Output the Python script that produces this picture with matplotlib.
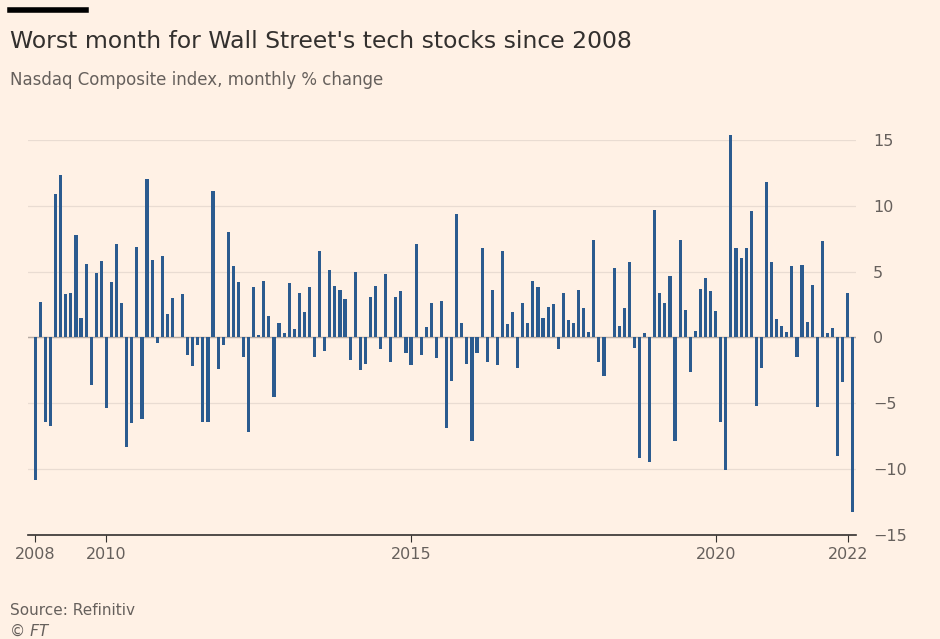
import matplotlib.pyplot as plt
import numpy as np

# Nasdaq monthly % change, Nov 2008 - Apr 2022
changes = [
    -10.8, 2.7,
    -6.4, -6.7, 10.9, 12.3, 3.3, 3.4, 7.8, 1.5, 5.6, -3.6, 4.9, 5.8,
    -5.4, 4.2, 7.1, 2.6, -8.3, -6.5, 6.9, -6.2, 12.0, 5.9, -0.4, 6.2,
    1.8, 3.0, 0.0, 3.3, -1.3, -2.2, -0.6, -6.4, -6.4, 11.1, -2.4, -0.6,
    8.0, 5.4, 4.2, -1.5, -7.2, 3.8, 0.2, 4.3, 1.6, -4.5, 1.1, 0.3,
    4.1, 0.6, 3.4, 1.9, 3.8, -1.5, 6.6, -1.0, 5.1, 3.9, 3.6, 2.9,
    -1.7, 5.0, -2.5, -2.0, 3.1, 3.9, -0.9, 4.8, -1.9, 3.1, 3.5, -1.2,
    -2.1, 7.1, -1.3, 0.8, 2.6, -1.6, 2.8, -6.9, -3.3, 9.4, 1.1, -2.0,
    -7.9, -1.2, 6.8, -1.9, 3.6, -2.1, 6.6, 1.0, 1.9, -2.3, 2.6, 1.1,
    4.3, 3.8, 1.5, 2.3, 2.5, -0.9, 3.4, 1.3, 1.1, 3.6, 2.2, 0.4,
    7.4, -1.9, -2.9, 0.0, 5.3, 0.9, 2.2, 5.7, -0.8, -9.2, 0.3, -9.5,
    9.7, 3.4, 2.6, 4.7, -7.9, 7.4, 2.1, -2.6, 0.5, 3.7, 4.5, 3.5,
    2.0, -6.4, -10.1, 15.4, 6.8, 6.0, 6.8, 9.6, -5.2, -2.3, 11.8, 5.7,
    1.4, 0.9, 0.4, 5.4, -1.5, 5.5, 1.2, 4.0, -5.3, 7.3, 0.3, 0.7,
    -9.0, -3.4, 3.4, -13.3,
]
year_pos = [0, 14, 74, 134, 160]
year_labels = ["2008", "2010", "2015", "2020", "2022"]
y_ticks = [-15, -10, -5, 0, 5, 10, 15]

bg = "#fff1e5"
fig = plt.figure(figsize=(9.4, 6.39), dpi=100, facecolor=bg)
ax = fig.add_axes([0.030, 0.163, 0.881, 0.618], facecolor=bg)

x = np.arange(len(changes))
ax.bar(x, changes, width=0.62, color="#2b5b8f", zorder=3, clip_on=False)

ax.set_xlim(-1.4, 161.7)
ax.set_ylim(-15, 15)
ax.set_yticks(y_ticks)
ax.yaxis.tick_right()
ax.tick_params(axis="y", length=0, pad=12, labelsize=11.5, labelcolor="#66605c")
ax.grid(axis="y", color="#e9dcd2", linewidth=0.9, zorder=0)
ax.axhline(0, color="#b5aba4", linewidth=1, zorder=2)
ax.set_xticks(year_pos)
ax.set_xticklabels(year_labels)
ax.tick_params(axis="x", length=5, color="#33302e", labelsize=11.5, labelcolor="#66605c")
for s in ["top", "right", "left"]:
    ax.spines[s].set_visible(False)
ax.spines["bottom"].set_color("#33302e")
ax.spines["bottom"].set_linewidth(1.2)

fig.add_artist(plt.Line2D([0.011, 0.092], [0.985, 0.985], color="black", linewidth=4))
fig.text(0.011, 0.935, "Worst month for Wall Street's tech stocks since 2008",
         fontsize=16.9, color="#33302e", va="center")
fig.text(0.011, 0.875, "Nasdaq Composite index, monthly % change",
         fontsize=12, color="#66605c", va="center")
fig.text(0.011, 0.045, "Source: Refinitiv", fontsize=11, color="#66605c", va="center")
fig.text(0.011, 0.012, "© FT", fontsize=11, color="#66605c", va="center", style="italic")

fig.savefig("out.png", dpi=100, facecolor=bg)
